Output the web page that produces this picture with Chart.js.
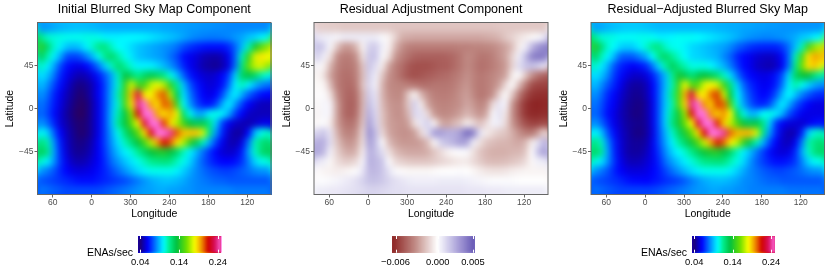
<!DOCTYPE html>
<html>
<head>
<meta charset="utf-8">
<script src="https://cdn.jsdelivr.net/npm/chart.js@4"></script>
<style>
    html, body { margin: 0; padding: 0; background: #fff; }
    canvas { position: absolute; }
    .barLabel { position: absolute; font: 10.5px "Liberation Sans", sans-serif; color: #000; text-align: right; width: 60px; }
</style>
</head>
<body>
<canvas id="initialMap" width="271" height="220" style="left:4px;top:0"></canvas>
<canvas id="residualMap" width="271" height="220" style="left:281px;top:0"></canvas>
<canvas id="adjustedMap" width="271" height="220" style="left:558px;top:0"></canvas>
<canvas id="initialBar" width="120" height="42" style="left:120px;top:230px"></canvas>
<canvas id="residualBar" width="120" height="42" style="left:374px;top:230px"></canvas>
<canvas id="adjustedBar" width="120" height="42" style="left:674px;top:230px"></canvas>
<div class="barLabel" style="left:73px;top:246px">ENAs/sec</div>
<div class="barLabel" style="left:627px;top:246px">ENAs/sec</div>
<script>
// grid centres, degrees along the map from the left edge (shown longitude wraps at 0)
var mapColumns = [-78, -68, -58, -48, -38, -28, -18, -8, 2, 12, 22, 32, 42, 52, 62, 72, 82, 92, 102, 112, 122, 132, 142, 152, 162, 172, 182, 192, 202, 212, 222, 232, 242, 252, 262, 272];
var mapRows = [85, 75, 65, 55, 45, 35, 25, 15, 5, -5, -15, -25, -35, -45, -55, -65, -75, -85];
var lonTicks = [-60, 0, 60, 120, 180, 240];
var lonLabels = ["60", "0", "300", "240", "180", "120"];
var latTicks = [-45, 0, 45];

// ENAs/sec x 1000
var initialValues = [
    [84,85,87,89,90,91,91,91,90,89,88,88,88,88,88,88,88,88,88,87,87,86,86,85,85,84,84,83,83,82,82,82,82,82,82,82],
    [118,108,106,105,104,104,104,105,105,104,100,100,100,101,101,101,100,98,96,94,92,90,87,84,82,81,80,80,81,82,85,87,92,95,100,105],
    [145,125,108,100,92,90,92,100,108,118,118,108,102,100,96,92,90,88,86,84,82,78,72,68,65,63,62,62,62,66,76,90,110,140,155,165],
    [130,112,100,88,72,70,72,80,90,104,118,124,112,104,98,92,90,88,86,84,78,72,62,58,55,50,48,47,50,58,76,110,145,175,185,180],
    [110,100,88,72,62,58,56,60,68,80,95,110,124,114,106,100,100,100,96,90,84,76,66,58,54,48,46,44,48,56,78,118,155,172,175,165],
    [98,92,80,66,58,52,48,50,56,64,75,88,110,135,125,115,125,130,125,118,105,92,76,64,58,54,52,54,60,70,95,125,132,125,112,105],
    [92,84,72,62,54,46,42,44,50,60,72,88,108,145,175,150,150,172,178,170,145,115,92,74,64,58,54,56,62,78,100,110,100,90,82,78],
    [85,78,66,58,50,44,40,42,50,60,72,90,112,150,190,228,185,180,198,205,170,130,98,80,68,60,56,60,72,90,100,88,76,68,62,60],
    [80,74,64,56,48,42,39,40,48,58,72,90,108,150,185,238,252,195,185,205,200,150,104,85,72,64,62,70,88,100,85,70,60,54,50,50],
    [78,72,62,54,46,41,38,40,48,58,72,92,112,135,165,215,262,250,195,185,195,178,125,104,88,88,100,105,100,88,70,60,52,50,50,50],
    [85,78,66,54,48,42,40,41,48,58,72,92,115,135,155,180,225,265,258,210,185,170,150,135,128,130,118,95,70,58,52,50,48,52,56,58],
    [104,96,76,60,50,44,40,41,48,58,72,88,105,122,138,155,185,220,262,265,240,205,190,190,190,175,118,85,65,52,46,47,60,90,104,110],
    [122,112,85,64,52,45,42,44,50,60,72,85,98,110,122,135,150,172,195,215,205,185,170,145,130,110,88,70,58,50,48,56,78,110,120,125],
    [130,118,88,66,54,46,44,46,52,60,70,82,92,100,106,115,125,135,140,142,135,125,110,100,90,78,68,60,54,52,54,64,85,108,122,128],
    [108,100,85,68,57,50,48,50,55,60,68,78,85,92,98,104,110,116,118,120,118,110,104,95,84,75,68,63,60,60,62,68,80,95,104,106],
    [85,80,74,66,60,56,55,56,58,62,66,72,78,84,90,96,100,104,104,104,104,100,94,88,82,78,74,72,70,70,72,75,78,82,84,84],
    [74,72,70,68,66,64,62,62,62,64,66,68,70,72,76,80,84,88,90,92,92,90,88,84,82,80,78,76,76,74,74,74,74,74,74,74],
    [80,78,76,74,72,72,72,72,72,72,74,76,78,80,82,84,86,86,88,88,86,86,84,84,82,82,82,82,82,82,80,80,80,80,80,80]
];

// x 1000, negative shows red
var residualValues = [
    [-1.3,-1.3,-1.4,-1.4,-1.5,-1.5,-1.5,-1.5,-1.5,-1.5,-1.5,-1.5,-1.6,-1.6,-1.6,-1.6,-1.6,-1.6,-1.6,-1.6,-1.6,-1.6,-1.6,-1.6,-1.6,-1.6,-1.6,-1.6,-1.5,-1.5,-1.5,-1.5,-1.5,-1.5,-1.5,-1.5],
    [.8,.6,.5,.3,.6,.6,.6,.6,.6,.6,.2,-.3,-1.2,-2.2,-2.3,-2.4,-2.4,-2.4,-2.4,-2.4,-2.4,-2.4,-2.4,-2.4,-2.4,-2.4,-2.3,-2.2,-2,-1.5,-1.2,-.8,-.5,-.2,.2,.8],
    [2,1.5,.2,-1.5,-2.7,-2.8,-2,-.3,1.5,1.6,.5,-.3,-2,-3,-3.5,-3.6,-3.6,-3.6,-3.6,-3.6,-3.6,-3.6,-3.5,-3.5,-3.4,-3.4,-3.3,-3.2,-2.9,-2.5,-1.8,-.5,.5,2.2,3.3,3.8],
    [1.6,.5,-.8,-3,-3.6,-3.6,-3,-.8,1.8,1.8,.2,-.8,-2.8,-3.5,-4,-4.4,-4.5,-4.5,-4.5,-4.5,-4.4,-4.2,-3.8,-3.2,-3.4,-3.8,-3.8,-3.5,-3,-2.5,-1.2,.5,2,3.8,4.2,4],
    [.3,-.3,-2,-3.3,-3.8,-3.8,-3.4,-1.6,1.8,1,-.5,-2.5,-3.5,-4,-4.7,-5,-5,-5,-4.8,-4.6,-4.6,-4.2,-3.8,-3.2,-3.5,-4,-3.9,-3.6,-3.2,-2.7,-1.2,1,1.8,2,1.5,.8],
    [-.2,-.8,-2.5,-3.5,-4,-4,-3.5,-1.8,1.5,.5,-1.5,-3,-3.5,-4.2,-4.8,-5,-4.8,-4.6,-4.4,-4.2,-4.1,-3.8,-3.5,-3,-3.4,-3.8,-3.6,-3.3,-3,-2.5,-.5,.1,-1.5,-3,-4,-4.5],
    [-.2,-.2,-1.8,-3.5,-4,-4.2,-3.7,-1.6,1.3,.4,-2,-3.2,-3.3,-3.4,-3.6,-3.8,-4,-4,-3.8,-3.8,-3.8,-3.6,-3.2,-2.8,-3.4,-3.8,-3.6,-3.2,-2.6,-1,.1,-1.8,-3.5,-5,-5.4,-5.4],
    [-.1,.1,-.8,-3,-4,-4.4,-4,-2,1.6,.8,-2,-3,-3.2,-3.2,-1.5,-.3,-2,-3,-3.5,-3.6,-3.6,-3.4,-3,-2.6,-3.2,-3.8,-3.6,-3,-1.2,.1,-1.5,-3.5,-5,-5.8,-6,-6],
    [-.2,.3,.3,-2.5,-4,-4.5,-4.2,-2,2,1,-1.8,-2.8,-3,-3,-1.5,1.5,-.5,-2.5,-3.2,-3.4,-3.4,-3.2,-3,-2.4,-2.8,-3.4,-3,-1,.8,.3,-2.8,-4.5,-5.8,-6.3,-6.4,-6.2],
    [-.3,.3,.3,-2.5,-4,-4.5,-4,-1.8,2.5,1.2,-1.6,-2.6,-3,-3,-2,1.2,1,-1,-2.8,-3.2,-3.2,-3,-2.6,-2,-2.4,-3,-2.4,.2,1,-.6,-3,-4.5,-5.8,-6.2,-6.2,-6],
    [-.2,.1,-.5,-2.5,-3.6,-4,-3.5,-1.5,3,1.4,-1.5,-2.6,-2.8,-3,-2.6,-.8,.8,1.5,-.3,-2.2,-2.6,-2,-1.5,-.5,-1,-1.8,-1,.4,.6,-1,-2.8,-4,-5,-5.4,-5.4,-5],
    [1.3,1.8,.8,-2,-3.2,-3.5,-3,-1,3.5,2,-1,-2.4,-2.8,-3,-3,-2.6,-1,1,3,3,2.5,2.5,3,4.5,4,1,-.5,-1,-1.4,-1.6,-2.2,-3,-3.6,-3.8,-2.6,-1],
    [2.5,2.5,1,-1.5,-2.6,-3,-2.5,-.8,3,2,.1,-1.8,-2.5,-2.8,-2.8,-2.8,-2.6,-1.8,-.2,1.5,2,2.4,3,2.8,.6,-.8,-1.6,-1.8,-2,-2,-2.2,-2.4,-2,-.5,1,2.5],
    [2.8,2.2,.4,-1.2,-2,-2.4,-2,-.4,2.5,2,1,-.8,-1.8,-2.2,-2.4,-2.4,-2.4,-2.2,-1.6,-1,-.4,-.1,.1,.2,-.8,-1.6,-2,-2.2,-2.2,-2.2,-2,-2,-1.6,0,2,3],
    [.8,.6,-.2,-.9,-1.3,-1.4,-1,.3,2.5,2.2,1.8,.1,-1,-1.3,-1.5,-1.6,-1.6,-1.6,-1.4,-1.2,-1,-.8,-.6,-.6,-1,-1.4,-1.8,-1.9,-1.9,-1.8,-1.6,-1.4,-1,-.2,.5,.6],
    [-.1,-.3,-.4,-.5,-.4,-.2,.1,.8,2.2,2.2,1.8,.9,.2,-.1,-.2,-.2,-.2,-.2,-.1,0,0,0,.1,0,-.2,-.5,-.7,-.8,-.8,-.7,-.5,-.4,-.3,-.3,-.3,-.3],
    [.1,.1,.2,.3,.5,.7,1,1.4,1.9,1.9,1.7,1.3,1,.8,.6,.5,.5,.5,.5,.6,.6,.6,.6,.5,.4,.3,.2,.1,.1,.1,.1,0,0,0,0,0],
    [.6,.6,.7,.7,.8,.9,1,1.1,1.3,1.3,1.2,1.1,1,1,.9,.9,.9,.9,.9,.9,.9,.9,.9,.8,.8,.8,.7,.7,.7,.6,.6,.6,.6,.6,.6,.6]
];

var adjustedValues = [
    [86,87,89,91,92,93,93,93,92,91,90,90,90,90,90,90,90,90,90,89,89,88,88,87,87,86,86,85,85,84,84,84,84,84,84,84],
    [117,107,106,105,103,103,103,104,104,103,100,100,101,103,103,103,102,100,98,96,94,92,89,86,84,83,82,82,83,84,86,88,93,95,100,104],
    [143,124,108,102,95,93,94,100,107,116,118,108,104,103,100,96,94,92,90,88,86,82,76,72,68,66,65,65,65,69,78,91,110,150,165,172],
    [128,112,101,91,76,74,75,81,88,102,118,125,115,108,102,96,95,93,91,89,82,76,66,61,58,54,52,51,53,61,77,110,150,185,195,190],
    [110,100,90,75,66,62,59,62,66,79,96,113,128,118,111,105,105,105,101,95,89,80,70,61,58,52,50,48,51,59,79,117,158,185,190,178],
    [98,93,83,70,62,56,52,52,55,64,77,91,114,139,130,120,130,135,129,122,109,96,80,67,61,58,56,57,63,73,96,125,136,135,120,112],
    [92,84,74,66,58,50,46,46,49,60,74,91,111,148,179,154,154,176,182,174,149,119,95,77,67,62,58,59,65,79,100,112,104,95,87,83],
    [85,78,67,61,54,48,44,44,48,59,74,93,115,153,192,228,187,183,202,209,174,133,101,83,71,64,60,63,73,90,102,92,81,74,68,66],
    [80,74,64,59,52,46,43,42,46,57,74,93,111,153,187,238,252,198,188,208,203,153,107,87,75,67,65,71,87,100,88,75,66,60,56,56],
    [78,72,62,57,50,46,42,42,46,57,74,95,115,138,167,214,262,250,198,188,198,181,128,106,90,91,102,105,99,89,73,65,58,56,56,56],
    [85,78,67,57,52,46,44,43,45,57,74,95,118,138,158,181,224,265,258,212,188,172,152,136,129,132,119,95,69,59,55,54,53,57,61,63],
    [103,94,75,62,53,48,43,42,45,56,73,90,108,125,141,158,186,219,262,265,240,203,192,192,192,175,119,86,66,54,48,50,64,94,107,111],
    [120,110,84,66,55,48,45,45,47,58,72,87,100,113,125,138,153,174,195,213,203,183,172,147,130,111,90,72,60,52,50,58,80,111,119,123],
    [127,116,88,67,56,48,46,46,50,58,69,83,94,102,108,117,127,137,142,143,135,125,110,100,91,80,70,62,56,54,56,66,87,108,120,125],
    [107,99,85,69,58,51,49,50,53,58,66,78,86,93,100,106,112,118,119,121,119,111,105,96,85,76,70,65,62,62,64,69,81,95,103,105],
    [85,80,74,66,60,56,55,55,56,60,64,71,78,84,90,96,100,104,104,104,104,100,94,88,82,79,75,73,71,71,73,75,78,82,84,84],
    [74,72,70,68,66,63,61,61,60,62,64,67,69,71,75,80,84,88,90,91,91,89,87,83,82,80,78,76,76,74,74,74,74,74,74,74],
    [79,77,75,73,71,71,71,71,71,71,73,75,77,79,81,83,85,85,87,87,85,85,83,83,81,81,81,81,81,81,79,79,79,79,79,79]
];

// colour keys
var enasKeys = [35, 43, 60, 86, 102, 115, 134, 160, 181, 198, 216, 233, 250];
var enasColors = ["#3a0040", "#14008c", "#0000ff", "#00a0ff", "#00ffff", "#00f090", "#00c040", "#70e000", "#ffff00", "#f09000", "#d00000", "#d81060", "#ff70e0"];
var residualKeys = [-6.5, -3.2, 0, 2.7, 5.3];
var residualColors = ["#8b2020", "#c08a84", "#ffffff", "#b0a8dc", "#6455b4"];

// colour bar bins and ticks
var enasBins = [35, 40, 45, 50, 55, 60, 65, 70, 75, 80, 85, 90, 95, 100, 105, 110, 115, 120, 125, 130, 135, 140, 145, 150, 155, 160, 165, 170, 175, 180, 185, 190, 195, 200, 205, 210, 215, 220, 225, 230, 235, 240, 245, 250];
var enasTicks = [40, 140, 240];
var enasTickLabels = ["0.04", "0.14", "0.24"];
var residualBins = [-6.5, -6, -5.5, -5, -4.5, -4, -3.5, -3, -2.5, -2, -1.5, -1, -.5, 0, .5, 1, 1.5, 2, 2.5, 3, 3.5, 4, 4.5, 5, 5.5];
var residualTicks = [-6, 0, 5];
var residualTickLabels = ["\u22120.006", "0.000", "0.005"];

var FONT = '"Liberation Sans", Arial, sans-serif';

function hexToRgb(hex) {
    return [parseInt(hex.substr(1, 2), 16), parseInt(hex.substr(3, 2), 16), parseInt(hex.substr(5, 2), 16)];
}

function colorFor(value, keys, colors) {
    if (value <= keys[0]) {
        return colors[0];
    }
    for (var i = 1; i < keys.length; i++) {
        if (value <= keys[i]) {
            var t = (value - keys[i - 1]) / (keys[i] - keys[i - 1]);
            var a = hexToRgb(colors[i - 1]);
            var b = hexToRgb(colors[i]);
            return "rgb(" + Math.round(a[0] + (b[0] - a[0]) * t) + "," + Math.round(a[1] + (b[1] - a[1]) * t) + "," + Math.round(a[2] + (b[2] - a[2]) * t) + ")";
        }
    }
    return colors[colors.length - 1];
}

// softens the cells into a continuous look, the edges are padded so they do not fade
function softenArea(chart, blurPx) {
    var area = chart.chartArea;
    var w = Math.round(area.right - area.left);
    var h = Math.round(area.bottom - area.top);
    var pad = 10;
    var base = document.createElement("canvas");
    base.width = w + pad * 2;
    base.height = h + pad * 2;
    var bc = base.getContext("2d");
    bc.drawImage(chart.canvas, area.left, area.top, w, h, 0, 0, base.width, base.height);
    bc.drawImage(chart.canvas, area.left, area.top, w, h, pad, pad, w, h);
    var out = document.createElement("canvas");
    out.width = w;
    out.height = h;
    var oc = out.getContext("2d");
    oc.filter = "blur(" + blurPx + "px)";
    oc.drawImage(base, -pad, -pad);
    chart.ctx.drawImage(out, area.left, area.top);
}

var smoothMap = {
    id: "smoothMap",
    afterDatasetsDraw: function (chart) {
        softenArea(chart, 3);
    },
    afterDraw: function (chart) {
        var area = chart.chartArea;
        var ctx = chart.ctx;
        ctx.save();
        ctx.strokeStyle = "#666666";
        ctx.lineWidth = 1;
        ctx.strokeRect(area.left, area.top, area.right - area.left, area.bottom - area.top);
        ctx.restore();
    }
};

// the white inner ticks of the colour bars
var barTicks = {
    id: "barTicks",
    afterDatasetsDraw: function (chart) {
        softenArea(chart, 1);
    },
    afterDraw: function (chart) {
        var area = chart.chartArea;
        var ctx = chart.ctx;
        ctx.save();
        ctx.strokeStyle = "#ffffff";
        ctx.lineWidth = 1;
        chart.scales.x.ticks.forEach(function (tick) {
            var x = Math.round(chart.scales.x.getPixelForValue(tick.value)) + 0.5;
            ctx.beginPath();
            ctx.moveTo(x, area.top);
            ctx.lineTo(x, area.top + 3);
            ctx.moveTo(x, area.bottom - 3);
            ctx.lineTo(x, area.bottom);
            ctx.stroke();
        });
        ctx.restore();
    }
};

function drawMap(id, title, values, keys, colors, leftWidth, rightPad) {
    var datasets = mapRows.map(function (lat, r) {
        return {
            data: mapColumns.map(function (col) {
                return { x: col, y: [lat - 5.5, lat + 5.5] };
            }),
            backgroundColor: values[r].map(function (v) {
                return colorFor(v, keys, colors);
            }),
            borderWidth: 0,
            barPercentage: 1.1,
            categoryPercentage: 1,
            grouped: false
        };
    });

    return new Chart(document.getElementById(id), {
        type: "bar",
        data: { datasets: datasets },
        plugins: [smoothMap],
        options: {
            responsive: false,
            animation: false,
            devicePixelRatio: 1,
            layout: { padding: { right: rightPad, top: 0, bottom: 0, left: 0 } },
            plugins: {
                legend: { display: false },
                tooltip: { enabled: false },
                title: {
                    display: true,
                    fullSize: false,
                    text: title,
                    color: "#000",
                    font: { family: FONT, size: 12.5, weight: "normal" },
                    padding: { top: 2, bottom: 5.5 }
                }
            },
            scales: {
                x: {
                    type: "linear",
                    offset: false,
                    min: -83.4,
                    max: 276.6,
                    afterBuildTicks: function (scale) {
                        scale.ticks = lonTicks.map(function (v) { return { value: v }; });
                    },
                    afterFit: function (scale) { scale.height = 25.5; },
                    grid: { offset: false, drawOnChartArea: false, color: "#666666", tickLength: 3 },
                    border: { display: false },
                    ticks: {
                        maxRotation: 0,
                        autoSkip: false,
                        padding: 0,
                        color: "#4d4d4d",
                        font: { family: FONT, size: 8.5 },
                        callback: function (v) { return lonLabels[lonTicks.indexOf(v)]; }
                    },
                    title: {
                        display: true,
                        text: "Longitude",
                        color: "#000",
                        font: { family: FONT, size: 10.5 },
                        padding: { top: 0, bottom: 0 }
                    }
                },
                y: {
                    type: "linear",
                    min: -90,
                    max: 90,
                    afterBuildTicks: function (scale) {
                        scale.ticks = latTicks.map(function (v) { return { value: v }; });
                    },
                    afterFit: function (scale) { scale.width = leftWidth; },
                    grid: { drawOnChartArea: false, color: "#666666", tickLength: 3 },
                    border: { display: false },
                    ticks: {
                        padding: 1,
                        color: "#4d4d4d",
                        font: { family: FONT, size: 8.5 },
                        callback: function (v) { return v < 0 ? "\u2212" + (-v) : "" + v; }
                    },
                    title: {
                        display: true,
                        text: "Latitude",
                        color: "#000",
                        font: { family: FONT, size: 10.5 },
                        padding: { top: 0, bottom: 0 }
                    }
                }
            }
        }
    });
}

function drawBar(id, bins, axisMax, ticks, tickLabels, keys, colors, leftPad, rightPad) {
    return new Chart(document.getElementById(id), {
        type: "bar",
        data: {
            datasets: [{
                data: bins.map(function (b) { return { x: b, y: [0, 1] }; }),
                backgroundColor: bins.map(function (b) { return colorFor(b, keys, colors); }),
                borderWidth: 0,
                barPercentage: 1.2,
                categoryPercentage: 1
            }]
        },
        plugins: [barTicks],
        options: {
            responsive: false,
            animation: false,
            devicePixelRatio: 1,
            layout: { padding: { left: leftPad, right: rightPad, top: 6, bottom: 0 } },
            plugins: { legend: { display: false }, tooltip: { enabled: false } },
            scales: {
                x: {
                    type: "linear",
                    offset: false,
                    min: bins[0],
                    max: axisMax,
                    afterBuildTicks: function (scale) {
                        scale.ticks = ticks.map(function (v) { return { value: v }; });
                    },
                    afterFit: function (scale) { scale.height = 19.3; },
                    grid: { display: false, drawTicks: false },
                    border: { display: false },
                    ticks: {
                        maxRotation: 0,
                        autoSkip: false,
                        padding: 4,
                        color: "#000",
                        font: { family: FONT, size: 9.4 },
                        callback: function (v) { return tickLabels[ticks.indexOf(v)]; }
                    }
                },
                y: { display: false, min: 0, max: 1 }
            }
        }
    });
}

drawMap("initialMap", "Initial Blurred Sky Map Component", initialValues, enasKeys, enasColors, 33.5, 4);
drawMap("residualMap", "Residual Adjustment Component", residualValues, residualKeys, residualColors, 33, 4);
drawMap("adjustedMap", "Residual\u2212Adjusted Blurred Sky Map", adjustedValues, enasKeys, enasColors, 33, 4.5);

drawBar("initialBar", enasBins, 250, enasTicks, enasTickLabels, enasKeys, enasColors, 18.3, 18.3);
drawBar("residualBar", residualBins, 5.3, residualTicks, residualTickLabels, residualKeys, residualColors, 18, 19);
drawBar("adjustedBar", enasBins, 250, enasTicks, enasTickLabels, enasKeys, enasColors, 18.3, 19);
</script>
</body>
</html>
